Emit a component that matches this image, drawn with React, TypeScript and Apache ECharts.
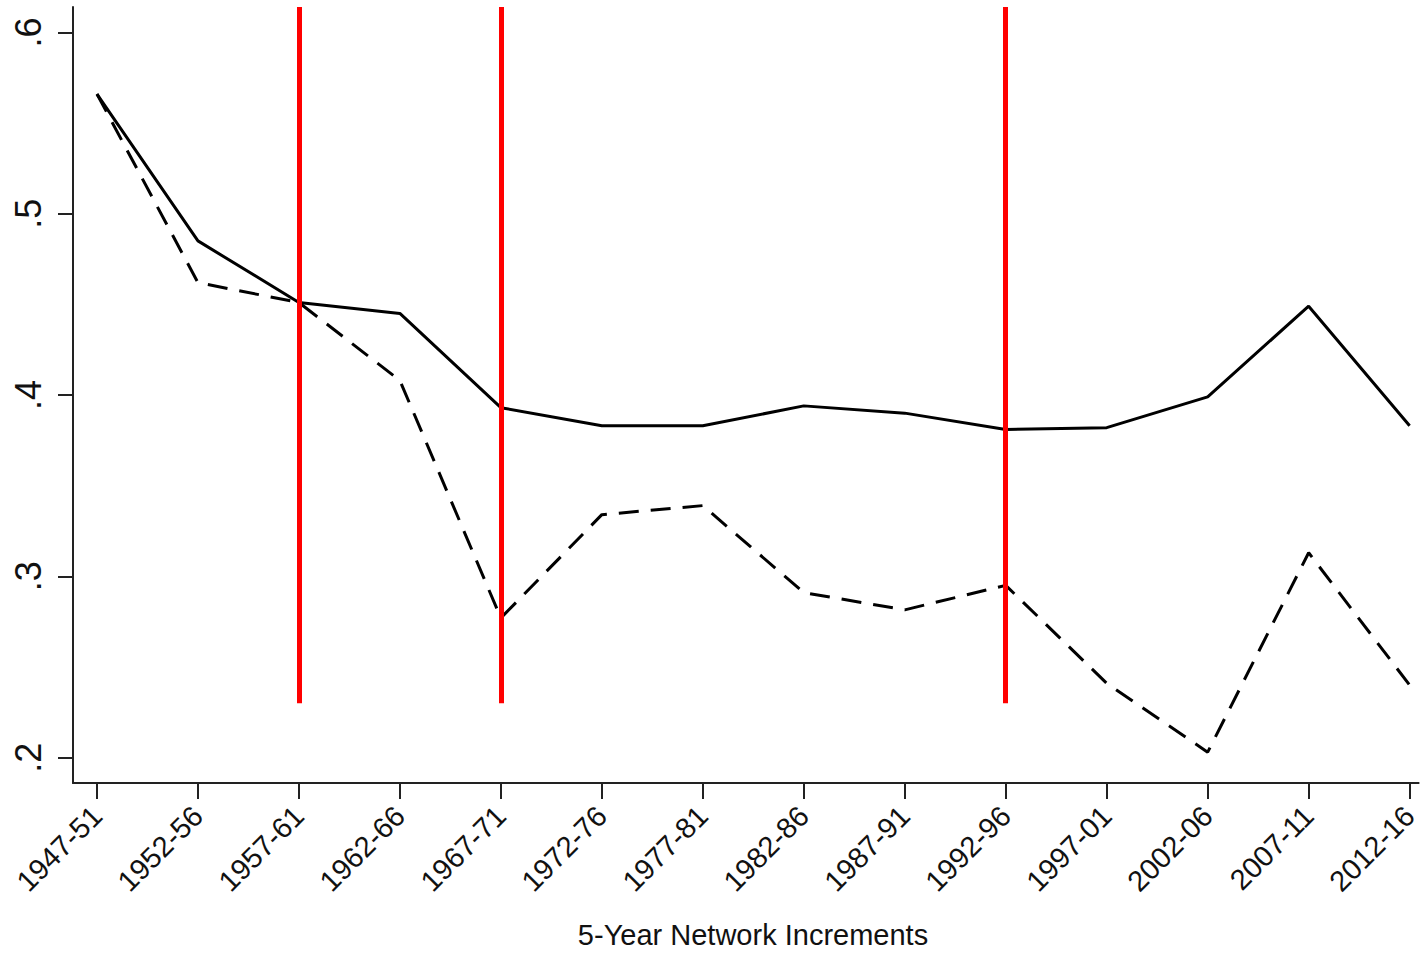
import React, { useEffect, useRef } from "react";
import * as echarts from "echarts";

const categories = [
  "1947-51", "1952-56", "1957-61", "1962-66", "1967-71", "1972-76", "1977-81",
  "1982-86", "1987-91", "1992-96", "1997-01", "2002-06", "2007-11", "2012-16",
];
const solidValues = [0.566, 0.485, 0.451, 0.445, 0.393, 0.383, 0.383, 0.394, 0.390, 0.381, 0.382, 0.399, 0.449, 0.383];
const dashedValues = [0.566, 0.462, 0.451, 0.408, 0.277, 0.334, 0.339, 0.291, 0.2815, 0.295, 0.241, 0.203, 0.313, 0.240];
const yTicks = [0.2, 0.3, 0.4, 0.5, 0.6];
const redLineCategories = ["1957-61", "1967-71", "1992-96"];
const redLineBottom = 0.23;
const xTitle = "5-Year Network Increments";

const Y_MIN = 0.186;
const Y_MAX = 0.614;

export default function App() {
  const ref = useRef<HTMLDivElement>(null);
  useEffect(() => {
    if (!ref.current) return;
    const chart = echarts.init(ref.current, undefined, { renderer: "svg" });
    const font = "'Liberation Sans', Arial, Helvetica, sans-serif";
    const xIdx = categories.map((_, i) => i);
    const option: any = {
      animation: false,
      backgroundColor: "#ffffff",
      grid: { left: 73, right: 2, top: 7, bottom: 171, containLabel: false },
      xAxis: {
        type: "value",
        min: -0.2374,
        max: 13.089,
        splitLine: { show: false },
        axisLine: { show: true, onZero: false, lineStyle: { color: "#222", width: 2 } },
        axisTick: {
          show: true,
          length: 16,
          lineStyle: { color: "#222", width: 2 },
          customValues: xIdx,
        },
        axisLabel: {
          show: true,
          rotate: 45,
          margin: 28,
          fontSize: 29,
          fontFamily: font,
          color: "#111",
          customValues: xIdx,
          formatter: (v: number) => categories[Math.round(v)] ?? "",
        },
      },
      yAxis: {
        type: "value",
        min: Y_MIN,
        max: Y_MAX,
        splitLine: { show: false },
        axisLine: { show: true, onZero: false, lineStyle: { color: "#222", width: 2 } },
        axisTick: {
          show: true,
          length: 15,
          lineStyle: { color: "#222", width: 2 },
          customValues: yTicks,
        },
        axisLabel: {
          show: true,
          rotate: 90,
          margin: 27,
          fontSize: 36,
          fontFamily: font,
          color: "#111",
          customValues: yTicks,
          formatter: (v: number) => v.toFixed(1).replace(/^0/, ""),
        },
      },
      graphic: [
        {
          type: "text",
          x: 753,
          y: 935,
          style: {
            text: xTitle,
            fontSize: 29,
            fontFamily: font,
            fill: "#111",
            textAlign: "center",
            textVerticalAlign: "middle",
          },
        },
      ],
      series: [
        {
          type: "line",
          name: "dashed",
          data: dashedValues.map((v, i) => [i, v]),
          symbol: "none",
          lineStyle: { color: "#000", width: 3, type: [20, 12] },
          z: 2,
        },
        {
          type: "line",
          name: "solid",
          data: solidValues.map((v, i) => [i, v]),
          symbol: "none",
          lineStyle: { color: "#000", width: 3, type: "solid" },
          z: 3,
        },
        {
          type: "line",
          name: "red",
          data: [],
          symbol: "none",
          z: 4,
          markLine: {
            silent: true,
            symbol: ["none", "none"],
            label: { show: false },
            lineStyle: { color: "#ff0000", width: 5, type: "solid" },
            data: redLineCategories.map((c) => {
              const i = categories.indexOf(c);
              return [{ coord: [i, redLineBottom] }, { coord: [i, Y_MAX] }];
            }),
          },
        },
      ],
    };
    chart.setOption(option);
    return () => chart.dispose();
  }, []);
  return (
    <div
      ref={ref}
      style={{ position: "fixed", left: 0, top: 0, width: 1422, height: 954, background: "#fff" }}
    />
  );
}
